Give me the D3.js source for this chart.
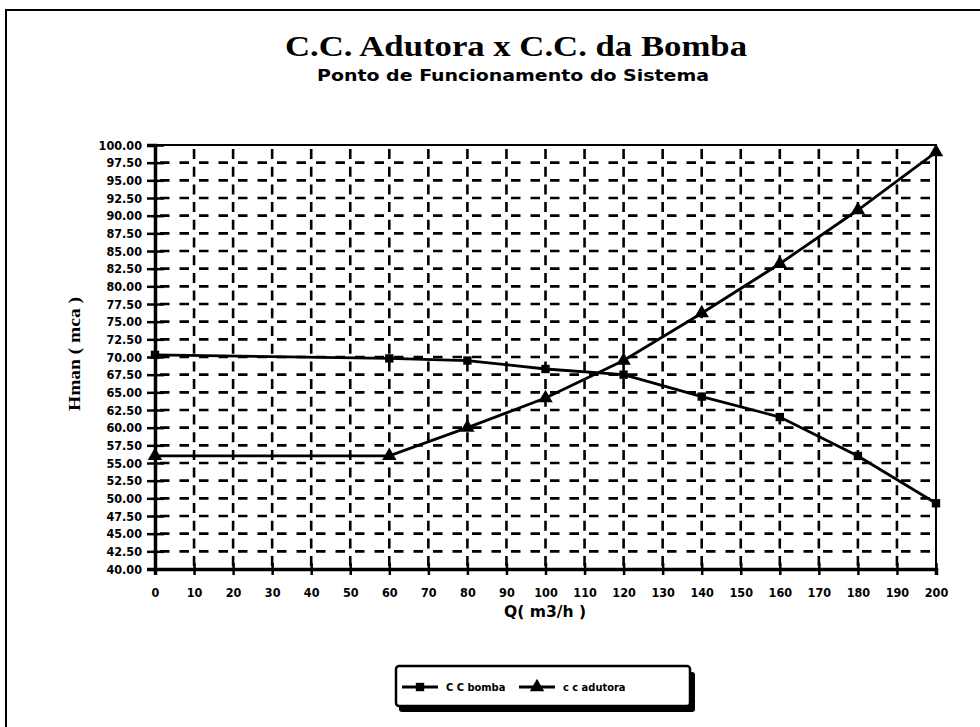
<!DOCTYPE html>
<html>
<head>
<meta charset="utf-8">
<script src="https://cdn.jsdelivr.net/npm/d3@7"></script>
<style>
  body { margin: 0; background: #fff; overflow: hidden; }
  svg { display: block; }
  text { fill: #000; }
</style>
</head>
<body>
<svg id="chart" width="980" height="727"></svg>
<script>
// chart data
const qValues = [0, 60, 80, 100, 120, 140, 160, 180, 200];
const bombaValues = [70.3, 69.8, 69.5, 68.3, 67.5, 64.4, 61.5, 56.0, 49.3];
const adutoraValues = [56.0, 56.0, 60.0, 64.2, 69.5, 76.2, 83.2, 90.8, 99.0];
const xTicks = [0, 10, 20, 30, 40, 50, 60, 70, 80, 90, 100, 110, 120, 130, 140, 150, 160, 170, 180, 190, 200];
const yTicks = [40, 42.5, 45, 47.5, 50, 52.5, 55, 57.5, 60, 62.5, 65, 67.5, 70, 72.5, 75, 77.5, 80, 82.5, 85, 87.5, 90, 92.5, 95, 97.5, 100];
const legendLabels = ["C C bomba", "c c adutora"];

const svg = d3.select("#chart");
const plotLeft = 155, plotRight = 936, plotTop = 145, plotBottom = 569;

const x = d3.scaleLinear().domain([0, 200]).range([plotLeft, plotRight]);
const y = d3.scaleLinear().domain([40, 100]).range([plotBottom, plotTop]);

// outer frame (only left and top edges show in the scan)
svg.append("path")
   .attr("d", "M6,727 V10 H980")
   .attr("fill", "none").attr("stroke", "#000").attr("stroke-width", 2);

// titles
svg.append("text")
   .attr("x", 516).attr("y", 56)
   .attr("text-anchor", "middle")
   .attr("font-family", "Liberation Serif")
   .attr("font-weight", "bold")
   .attr("font-size", 30)
   .attr("textLength", 462).attr("lengthAdjust", "spacingAndGlyphs")
   .text("C.C. Adutora x C.C. da Bomba");

svg.append("text")
   .attr("x", 513).attr("y", 81)
   .attr("text-anchor", "middle")
   .attr("font-family", "DejaVu Sans Condensed")
   .attr("font-weight", "bold")
   .attr("font-size", 15)
   .attr("textLength", 392).attr("lengthAdjust", "spacingAndGlyphs")
   .text("Ponto de Funcionamento do Sistema");

// dashed grid
const grid = svg.append("g").attr("stroke", "#000").attr("stroke-width", 2.6);
grid.selectAll("line.h")
   .data(yTicks.filter(d => d > 40 && d < 100))
   .join("line")
   .attr("class", "h")
   .attr("x1", plotLeft).attr("x2", plotRight)
   .attr("y1", d => y(d)).attr("y2", d => y(d))
   .attr("stroke-dasharray", "9.5,10")
   .attr("stroke-dashoffset", -5);
grid.selectAll("line.v")
   .data(xTicks.filter(d => d > 0 && d < 200))
   .join("line")
   .attr("class", "v")
   .attr("x1", d => x(d)).attr("x2", d => x(d))
   .attr("y1", plotTop).attr("y2", plotBottom)
   .attr("stroke-dasharray", "10,7.7")
   .attr("stroke-dashoffset", -4);

// plot border
svg.append("rect")
   .attr("x", plotLeft).attr("y", plotTop)
   .attr("width", plotRight - plotLeft).attr("height", plotBottom - plotTop)
   .attr("fill", "none").attr("stroke", "#000").attr("stroke-width", 2);

// axes
const yAxis = d3.axisLeft(y).tickValues(yTicks).tickFormat(d3.format(".2f")).tickSize(8).tickPadding(5);
const gy = svg.append("g").attr("transform", `translate(${plotLeft},0)`).call(yAxis);
const xAxis = d3.axisBottom(x).tickValues(xTicks).tickFormat(d3.format("d")).tickSize(6).tickPadding(13);
const gx = svg.append("g").attr("transform", `translate(0,${plotBottom})`).call(xAxis);

[gy, gx].forEach(g => {
   g.select(".domain").attr("stroke", "#000").attr("stroke-width", 3.5);
   g.selectAll(".tick line").attr("stroke", "#000").attr("stroke-width", 2.5);
   g.selectAll(".tick text")
      .attr("font-family", "DejaVu Sans Condensed")
      .attr("font-weight", "bold")
      .attr("font-size", 12.5)
      .attr("fill", "#000");
});
// ticks cross the axis lines
gy.selectAll(".tick").append("line").attr("x1", 0).attr("x2", 9).attr("stroke", "#000").attr("stroke-width", 2.5);
gx.selectAll(".tick").append("line").attr("y1", 0).attr("y2", -6).attr("stroke", "#000").attr("stroke-width", 2.5);

// axis titles
svg.append("text")
   .attr("transform", "translate(80,354) rotate(-90)")
   .attr("text-anchor", "middle")
   .attr("font-family", "Liberation Serif")
   .attr("font-weight", "bold")
   .attr("font-size", 17)
   .attr("textLength", 114).attr("lengthAdjust", "spacingAndGlyphs")
   .text("Hman ( mca )");

svg.append("text")
   .attr("x", 545).attr("y", 617)
   .attr("text-anchor", "middle")
   .attr("font-family", "DejaVu Sans Condensed")
   .attr("font-weight", "bold")
   .attr("font-size", 15)
   .attr("textLength", 82).attr("lengthAdjust", "spacingAndGlyphs")
   .text("Q( m3/h )");

// series
const line = d3.line().x(d => x(d[0])).y(d => y(d[1]));
const bomba = qValues.map((q, i) => [q, bombaValues[i]]);
const adutora = qValues.map((q, i) => [q, adutoraValues[i]]);

svg.append("path").datum(bomba)
   .attr("d", line).attr("fill", "none").attr("stroke", "#000").attr("stroke-width", 2.8);
svg.append("path").datum(adutora)
   .attr("d", line).attr("fill", "none").attr("stroke", "#000").attr("stroke-width", 2.8);

const square = d3.symbol().type(d3.symbolSquare).size(70);
const triangle = d3.symbol().type(d3.symbolTriangle).size(90);

svg.append("g").selectAll("path")
   .data(bomba).join("path")
   .attr("transform", d => `translate(${x(d[0])},${y(d[1])})`)
   .attr("d", square).attr("fill", "#000");
svg.append("g").selectAll("path")
   .data(adutora).join("path")
   .attr("transform", d => `translate(${x(d[0])},${y(d[1])})`)
   .attr("d", triangle).attr("fill", "#000");

// legend
const lg = svg.append("g");
lg.append("rect")
   .attr("x", 399).attr("y", 672).attr("width", 296).attr("height", 40)
   .attr("rx", 3).attr("fill", "#000");
lg.append("rect")
   .attr("x", 396).attr("y", 666).attr("width", 294).attr("height", 40)
   .attr("rx", 3).attr("fill", "#fff").attr("stroke", "#000").attr("stroke-width", 2.5);

const items = [
   { label: legendLabels[0], sym: square, x0: 402 },
   { label: legendLabels[1], sym: triangle, x0: 519 }
];
items.forEach(it => {
   lg.append("line")
      .attr("x1", it.x0).attr("x2", it.x0 + 36)
      .attr("y1", 687).attr("y2", 687)
      .attr("stroke", "#000").attr("stroke-width", 2.8);
   lg.append("path")
      .attr("transform", `translate(${it.x0 + 18},687)`)
      .attr("d", it.sym).attr("fill", "#000");
   lg.append("text")
      .attr("x", it.x0 + 44).attr("y", 691)
      .attr("font-family", "DejaVu Sans Condensed")
      .attr("font-weight", "bold")
      .attr("font-size", 11)
      .text(it.label);
});
</script>
</body>
</html>
